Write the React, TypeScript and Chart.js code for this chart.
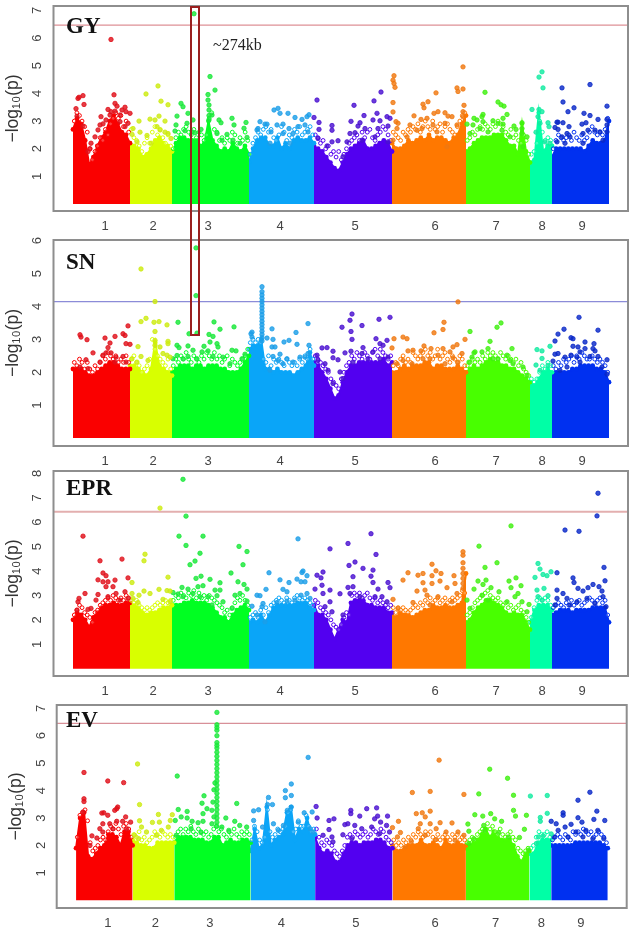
import React, { useEffect, useRef } from "react";
import { Chart, registerables } from "chart.js";

Chart.register(...registerables);

const chromosomes = ["1", "2", "3", "4", "5", "6", "7", "8", "9"];
const chromLengths = [57, 42, 77, 65, 78, 74, 64, 22, 57];
const chromLabelPositions = [32, 80, 135, 207, 282, 362, 423, 469, 509];
const massColors = ["#FA0000", "#D8FF00", "#00FF22", "#0AA5F8", "#5200F0", "#FF7800", "#48FF00", "#00FFA6", "#0030F0"];
const pointColors = ["#E0101A", "#CDEB10", "#18E838", "#1C9EE8", "#4A10D0", "#F07810", "#40F010", "#10EBA0", "#0A28C8"];

// Upper edge of the solid band of points, one list for each chromosome
const gyEnvelope = [
  [2.7, 3.1, 2.9, 2.3, 1.4, 1.7, 2.1, 2.4, 2.6, 3.0, 3.2, 2.9, 2.6, 2.5, 2.2],
  [2.2, 2.1, 2.0, 1.7, 1.8, 2.0, 2.3, 2.4, 2.2, 2.1, 1.9],
  [1.8, 2.2, 2.4, 2.4, 2.3, 2.3, 2.3, 2.1, 2.2, 3.0, 2.3, 2.1, 1.9, 2.0, 1.9, 2.2, 2.0, 1.9, 2.1, 1.8],
  [1.5, 2.0, 2.3, 2.4, 2.4, 2.1, 2.1, 2.4, 2.0, 2.2, 2.0, 2.3, 2.4, 2.3, 2.3, 2.4, 2.2],
  [2.1, 2.0, 1.9, 1.7, 1.5, 1.3, 1.2, 1.5, 1.8, 2.0, 2.1, 2.2, 2.3, 2.0, 2.0, 2.1, 2.2, 2.3, 2.2, 1.9],
  [2.2, 2.0, 2.0, 2.1, 2.3, 2.2, 2.3, 2.4, 2.3, 2.5, 2.3, 2.4, 2.4, 2.3, 2.2, 2.4, 2.5, 2.9, 3.2],
  [1.9, 2.0, 2.2, 2.3, 2.4, 2.4, 2.4, 2.5, 2.5, 2.5, 2.3, 2.1, 2.1, 1.8, 2.9, 1.9, 1.5],
  [1.5, 1.6, 3.3, 1.9, 2.1, 2.1],
  [1.7, 2.0, 2.0, 2.0, 2.0, 2.0, 2.0, 2.0, 1.9, 2.1, 2.3, 2.2, 2.2, 2.3, 3.0],
];
const snEnvelope = [
  [2.1, 2.1, 2.1, 2.0, 1.9, 1.9, 2.0, 2.1, 2.2, 2.3, 2.3, 2.2, 2.1, 2.1, 2.1],
  [2.2, 2.2, 2.1, 2.0, 1.9, 2.1, 2.9, 2.2, 2.1, 2.0, 1.9],
  [2.0, 2.1, 2.2, 2.2, 2.2, 2.1, 2.2, 2.2, 2.1, 2.2, 2.2, 2.2, 2.1, 2.1, 2.0, 2.0, 2.0, 2.1, 2.3, 2.5],
  [2.7, 2.8, 2.8, 3.0, 2.1, 2.1, 2.0, 2.1, 2.0, 2.0, 2.0, 1.9, 2.0, 2.1, 2.2, 2.6, 2.2],
  [2.3, 2.2, 2.0, 1.8, 1.5, 1.2, 1.3, 1.7, 2.0, 2.2, 2.2, 2.3, 2.3, 2.3, 2.3, 2.3, 2.3, 2.4, 2.2, 2.3],
  [2.0, 2.0, 2.1, 2.2, 2.1, 2.2, 2.2, 2.2, 2.3, 2.3, 2.1, 2.2, 2.2, 2.1, 2.1, 2.1, 2.2, 2.1, 2.0],
  [2.0, 2.1, 2.2, 2.1, 2.2, 2.3, 2.4, 2.3, 2.3, 2.2, 2.2, 2.1, 2.1, 2.0, 1.9, 1.8, 1.7],
  [1.7, 1.6, 1.8, 2.0, 2.1, 2.0],
  [1.9, 2.0, 2.0, 2.0, 2.0, 2.1, 2.1, 2.2, 2.2, 2.2, 2.2, 2.1, 2.1, 2.0, 1.7],
];
const eprEnvelope = [
  [2.0, 2.3, 2.2, 2.0, 1.7, 2.1, 2.3, 2.5, 2.6, 2.6, 2.7, 2.6, 2.6, 2.7, 2.7],
  [2.6, 2.6, 2.5, 2.3, 2.2, 2.3, 2.3, 2.4, 2.5, 2.5, 2.6],
  [2.6, 2.6, 2.6, 2.7, 2.7, 2.8, 2.7, 2.7, 2.7, 2.6, 2.5, 2.3, 2.1, 2.1, 1.9, 2.2, 2.4, 2.5, 2.6, 2.4],
  [1.9, 2.0, 1.9, 2.2, 1.9, 2.2, 2.5, 2.6, 2.6, 2.6, 2.6, 2.6, 2.7, 2.7, 2.7, 2.5, 2.4],
  [2.6, 2.2, 2.2, 2.0, 1.6, 1.2, 1.6, 2.0, 1.9, 2.7, 2.8, 2.8, 2.8, 2.6, 2.6, 2.5, 2.5, 2.5, 2.3, 2.3],
  [2.2, 2.1, 2.3, 2.2, 2.2, 2.1, 2.2, 2.3, 2.4, 2.4, 2.6, 2.5, 2.5, 2.6, 2.5, 2.5, 2.6, 2.7, 3.9],
  [1.9, 2.0, 2.3, 2.5, 2.6, 2.8, 2.8, 2.7, 2.6, 2.5, 2.3, 2.2, 2.3, 2.2, 2.2, 1.9, 1.6],
  [1.9, 2.4, 2.6, 2.6, 2.6, 2.4],
  [2.2, 2.3, 2.4, 2.4, 2.4, 2.3, 2.4, 2.4, 2.4, 2.4, 2.5, 2.5, 2.5, 2.5, 1.9],
];
const evEnvelope = [
  [1.9, 3.0, 3.2, 1.6, 1.5, 1.7, 1.9, 2.0, 2.4, 2.4, 2.3, 2.0, 2.5, 2.5, 2.0],
  [2.2, 2.1, 2.0, 2.0, 1.9, 1.9, 2.1, 2.1, 2.1, 2.1, 2.1],
  [2.1, 2.3, 2.3, 2.3, 2.3, 2.2, 2.2, 2.2, 2.1, 2.1, 2.3, 2.3, 2.0, 2.1, 2.2, 2.1, 2.1, 2.2, 2.2, 2.1],
  [1.8, 2.6, 1.9, 2.0, 3.4, 2.0, 2.2, 2.3, 2.4, 3.2, 3.4, 2.2, 2.6, 2.5, 3.0, 2.4, 2.4],
  [2.3, 1.9, 1.7, 1.8, 1.7, 1.4, 1.4, 1.7, 2.0, 2.1, 2.1, 2.0, 2.1, 2.1, 2.1, 2.2, 2.2, 2.1, 1.9, 1.9],
  [2.0, 1.8, 1.8, 1.9, 2.0, 2.0, 2.0, 2.2, 2.0, 2.0, 2.1, 2.0, 1.9, 2.2, 2.0, 2.0, 2.1, 2.0, 2.0],
  [1.9, 2.0, 2.1, 2.2, 2.4, 2.6, 2.3, 2.5, 2.3, 2.2, 2.2, 2.2, 2.0, 1.6, 1.4, 1.7, 1.8],
  [1.7, 1.7, 2.1, 2.2, 2.2, 2.2],
  [2.0, 2.0, 2.0, 2.0, 2.0, 2.0, 2.1, 2.1, 2.1, 2.1, 2.1, 2.1, 2.1, 2.0, 1.9],
];

// Open rings just above the solid band, read left to right in each chromosome
const gyFringe = [
  [3.0,3.3,3.2,3.0,2.8,2.6,2.0,1.6,1.9,2.1,2.4,2.3,2.7,2.5,2.9,3.1,3.3,3.1,3.2,2.8,3.0,2.6],
  [2.7,2.4,2.3,2.1,1.9,2.2,2.4,2.2,2.6,2.8,2.5,2.7,2.4,2.2,2.5,2.1],
  [2.0,2.4,2.6,2.5,2.7,2.8,2.6,2.5,2.7,2.4,2.6,2.5,2.3,2.5,3.1,3.3,2.7,2.6,2.3,2.4,2.2,2.4,2.3,2.6,2.5,2.2,2.4,2.3,2.6,2.3],
  [1.8,2.2,2.4,2.6,2.5,2.7,2.8,2.6,2.7,2.4,2.3,2.5,2.8,2.6,2.3,2.5,2.4,2.7,2.6,2.8,2.5,2.6,2.7,2.8,2.5],
  [2.5,2.4,2.2,2.3,2.0,2.1,1.8,1.9,1.7,1.9,1.6,1.8,2.0,2.2,2.3,2.4,2.5,2.3,2.6,2.4,2.6,2.7,2.4,2.3,2.5,2.6,2.8,2.7,2.5,2.3],
  [2.6,2.5,2.4,2.3,2.6,2.5,2.7,2.6,2.8,2.7,2.9,2.6,2.8,3.0,2.8,2.7,3.0,2.7,2.8,2.9,2.6,2.8,2.9,2.7,2.6,2.5,2.8,3.0,3.2,3.3],
  [2.3,2.4,2.6,2.5,2.7,2.8,2.7,2.9,2.8,2.7,2.9,2.8,3.0,2.9,2.8,2.6,2.5,2.7,2.4,2.5,2.3,2.2,2.5,2.3,1.8],
  [1.8,1.9,2.2,3.0,2.6,2.3,2.4,2.3],
  [2.0,2.3,2.5,2.4,2.3,2.4,2.5,2.3,2.6,2.4,2.3,2.5,2.3,2.4,2.6,2.8,2.6,2.5,2.6,2.5,2.7,3.1],
];
const snFringe = [
  [2.3,2.2,2.4,2.3,2.1,2.3,2.1,2.0,2.2,2.1,2.3,2.5,2.4,2.6,2.5,2.4,2.5,2.3,2.4,2.3,2.5,2.3],
  [2.4,2.5,2.3,2.2,2.0,2.1,2.2,2.4,3.0,2.7,2.5,2.4,2.3,2.2,2.4,2.1],
  [2.2,2.4,2.3,2.5,2.4,2.6,2.4,2.3,2.5,2.4,2.3,2.5,2.4,2.6,2.5,2.4,2.6,2.4,2.5,2.3,2.4,2.5,2.2,2.4,2.3,2.2,2.3,2.4,2.5,2.7],
  [2.9,3.0,2.9,3.0,2.9,2.4,2.3,2.5,2.2,2.4,2.3,2.4,2.3,2.2,2.4,2.3,2.2,2.3,2.2,2.4,2.3,2.5,2.4,2.7,2.4],
  [2.5,2.4,2.3,2.2,2.1,2.0,1.8,1.7,1.6,1.5,1.8,2.0,2.2,2.3,2.5,2.4,2.6,2.5,2.4,2.6,2.5,2.4,2.6,2.7,2.5,2.7,2.6,2.5,2.4,2.5],
  [2.2,2.3,2.2,2.4,2.5,2.3,2.4,2.3,2.6,2.5,2.4,2.5,2.6,2.7,2.5,2.6,2.4,2.5,2.7,2.4,2.5,2.6,2.4,2.3,2.5,2.4,2.3,2.5,2.4,2.2],
  [2.2,2.3,2.4,2.3,2.4,2.3,2.5,2.4,2.6,2.5,2.6,2.5,2.4,2.6,2.5,2.4,2.5,2.4,2.3,2.4,2.2,2.3,2.1,2.0,1.9],
  [1.8,1.7,1.8,2.0,2.2,2.1,2.3,2.2],
  [2.2,2.1,2.3,2.2,2.4,2.3,2.4,2.5,2.3,2.5,2.4,2.6,2.5,2.4,2.4,2.5,2.4,2.3,2.4,2.3,2.2,2.0],
];
const eprFringe = [
  [2.2,2.4,2.6,2.5,2.3,2.2,2.1,1.9,2.3,2.4,2.6,2.7,2.8,2.9,2.8,3.0,2.9,2.8,2.9,2.8,3.0,2.9],
  [2.8,2.7,2.8,2.6,2.5,2.4,2.5,2.4,2.5,2.6,2.7,2.6,2.7,2.8,2.7,2.8],
  [2.8,3.0,2.9,3.1,3.0,2.9,3.1,3.0,3.2,2.9,3.1,2.9,3.0,2.8,3.0,2.9,2.8,2.7,2.6,2.5,2.3,2.4,2.2,2.5,2.7,2.9,2.8,3.0,2.8,2.6],
  [2.1,2.2,2.3,2.1,2.4,2.2,2.5,2.3,2.6,2.7,2.8,2.9,2.8,2.7,2.9,2.8,2.7,2.9,3.0,2.9,2.8,2.9,2.8,2.7,2.6],
  [2.8,2.7,2.5,2.4,2.3,2.2,2.0,1.8,1.7,1.6,1.8,2.1,2.3,2.2,3.0,3.1,3.0,3.1,2.9,3.0,3.1,2.9,2.8,2.9,2.7,2.8,2.7,2.6,2.5,2.6],
  [2.5,2.3,2.5,2.4,2.5,2.4,2.3,2.4,2.5,2.6,2.5,2.7,2.6,2.8,2.7,2.9,2.7,2.8,2.9,2.7,2.8,2.9,2.7,2.8,2.9,2.8,2.9,3.0,3.2,3.1],
  [2.2,2.3,2.5,2.7,2.8,2.9,3.0,3.1,3.2,3.0,2.9,2.8,2.9,2.7,2.6,2.7,2.5,2.6,2.4,2.5,2.6,2.4,2.3,2.1,1.9],
  [2.1,2.5,2.8,2.9,2.8,2.9,2.8,2.6],
  [2.5,2.6,2.7,2.6,2.5,2.7,2.6,2.8,2.6,2.7,2.8,2.6,2.7,2.8,2.9,2.8,2.7,2.8,2.9,2.7,2.8,2.2],
];
const evFringe = [
  [2.3,3.1,3.2,3.3,2.9,2.1,1.8,1.9,2.0,2.2,2.3,2.2,2.5,2.7,2.6,2.8,2.6,2.4,2.7,2.8,2.6,2.3],
  [2.4,2.3,2.5,2.2,2.3,2.1,2.2,2.3,2.5,2.4,2.3,2.5,2.4,2.3,2.4,2.3],
  [2.3,2.5,2.6,2.4,2.6,2.5,2.7,2.5,2.4,2.6,2.5,2.4,2.5,2.3,2.4,2.6,2.7,2.5,2.6,2.4,2.3,2.5,2.4,2.6,2.4,2.3,2.5,2.4,2.5,2.4],
  [2.2,2.7,2.5,2.2,2.1,2.3,3.3,2.5,2.3,2.4,2.6,2.5,2.6,2.7,3.2,3.3,2.5,2.6,2.9,2.7,2.7,3.1,2.7,2.5,2.6],
  [2.6,2.3,2.1,2.0,2.2,2.1,2.0,1.8,1.7,1.6,1.8,2.0,2.3,2.4,2.3,2.5,2.4,2.3,2.4,2.5,2.3,2.4,2.6,2.5,2.4,2.6,2.5,2.3,2.2,2.1],
  [2.2,2.0,2.1,2.0,2.2,2.1,2.3,2.2,2.4,2.3,2.5,2.4,2.3,2.5,2.4,2.5,2.3,2.2,2.4,2.2,2.3,2.4,2.3,2.2,2.4,2.3,2.4,2.2,2.3,2.2],
  [2.1,2.2,2.3,2.2,2.4,2.5,2.6,2.5,2.8,2.6,2.7,2.5,2.4,2.6,2.4,2.3,2.4,2.5,2.3,2.2,1.9,1.8,1.7,1.8,1.9],
  [1.9,2.0,2.3,2.5,2.4,2.4,2.5,2.3],
  [2.2,2.3,2.4,2.3,2.2,2.4,2.3,2.2,2.5,2.4,2.5,2.4,2.6,2.5,2.4,2.5,2.3,2.4,2.5,2.4,2.3,2.1],
];

// Separate points: position inside the chromosome, -log10(p), repeated
const gyPoints = [
  [38,5.95,5,3.82,6,3.86,10,3.92,11,3.6,3,3.45,4,3.18,41,3.95,42,3.64,44,3.54,35,3.42,38,3.34,42,3.36,28,3.16,47,3.22,52,3.5,49,3.4,57,3.28,53,3.34,33,3.04,27,2.86,25,2.68,22,2.43,18,2.2,10,2.82,55,2.92,52,2.8,47,2.98,37,3.22,30,2.9,15,1.9,17,2.0],
  [16,3.98,28,4.27,31,3.72,38,3.59,9,3.0,20,3.07,25,3.04,29,3.18,35,3.0,3,2.73,2,2.52,10,2.6,17,2.48,27,2.8,30,2.68,35,2.6,7,2.25,21,2.2,38,2.55,41,2.37],
  [22,6.88,38,4.61,43,4.12,36,3.96,36,3.76,37,3.58,37,3.4,37,3.2,37,3.04,9,3.64,11,3.52,5,3.18,16,3.28,21,3.04,4,2.86,3,2.64,15,2.92,23,2.58,29,2.7,40,3.22,47,3.04,49,2.94,60,3.1,62,2.86,55,2.52,74,2.95,72,2.74,45,2.55,50,2.31,61,2.31,68,2.2,75,2.41,13,2.65,20,2.61],
  [25,3.4,29,3.46,31,3.28,39,3.28,11,2.98,16,2.89,18,2.89,9,2.73,28,2.86,34,2.89,46,3.13,53,3.06,58,3.16,60,3.23,49,2.8,56,2.86,40,2.73,22,2.61,59,2.61,8,2.68,34,2.55,44,2.55,21,2.2,41,2.2],
  [3,3.76,40,3.57,60,3.73,67,4.05,0,3.13,5,2.95,5,2.7,18,2.84,18,2.67,37,2.99,50,3.2,63,3.28,73,3.16,76,3.1,74,2.82,46,2.94,44,2.82,51,2.73,36,2.55,41,2.58,66,3.01,64,2.73,59,3.04,18,2.25,24,2.29,13,2.1,33,2.25,4,2.37,74,2.25,29,1.71,48,2.31,61,2.43],
  [71,4.96,2,4.64,1,4.48,2,4.36,3,4.22,1,3.67,1,3.33,44,4.02,65,4.2,66,4.07,71,4.16,31,3.61,36,3.7,32,3.48,46,3.34,53,3.3,60,3.16,22,3.19,35,3.1,29,3.06,42,3.28,56,3.18,72,3.57,71,3.34,71,3.16,4,2.98,6,2.92,5,2.73,25,2.67,18,2.86,41,2.86,53,2.92,65,2.86,15,2.43,30,2.73,45,2.61,55,2.07,1,2.31],
  [19,4.04,32,3.69,35,3.59,38,3.54,17,3.24,16,3.16,8,3.1,11,3.04,41,3.24,37,3.1,27,3.01,1,2.89,7,2.86,17,2.98,32,2.92,37,2.89,48,2.82,50,2.7,56,2.94,56,2.73,56,2.55,61,2.43,4,2.55,14,2.73,22,2.61,36,2.67,44,2.43,57,2.07],
  [12,4.78,9,4.59,13,4.2,2,3.42,9,3.42,12,3.34,18,2.94,19,2.8,6,2.6,8,3.16,10,2.92,15,2.25,20,2.2],
  [10,4.2,38,4.32,11,3.69,22,3.48,16,3.34,55,3.54,32,3.28,38,3.2,46,3.06,55,3.06,55,2.86,55,2.61,6,2.96,5,2.96,11,2.94,3,2.77,6,2.7,17,2.8,15,2.55,18,2.43,30,2.89,34,2.94,36,2.67,31,2.55,43,2.67,48,2.61,5,2.25,13,2.2,31,2.2,51,2.31,10,2.43],
];
const snPoints = [
  [7,3.14,8,3.07,14,2.99,20,2.59,13,2.38,32,3.04,42,3.09,37,2.89,35,2.75,50,3.17,52,3.12,55,3.41,53,2.87,57,2.85,33,2.59,38,2.59,43,2.46,50,2.48,30,2.52,42,2.31,27,2.31,7,2.16,15,2.11,53,2.31],
  [11,5.14,25,4.15,16,3.64,11,3.54,29,3.54,24,3.52,37,3.44,25,3.24,8,2.78,38,2.94,38,2.87,11,2.48,2,2.41,7,2.31,30,2.77,33,2.57,37,2.52,18,2.36,40,2.46,25,2.97,25,2.82],
  [24,5.78,24,4.33,6,3.52,42,3.53,48,3.31,62,3.38,17,3.17,25,3.19,37,3.15,41,3.09,5,2.82,7,2.75,16,2.8,21,2.67,32,2.79,38,2.92,45,2.87,46,2.77,36,2.65,30,2.62,25,2.41,11,2.41,1,2.41,41,2.48,51,2.46,60,2.67,64,2.65,73,2.55,70,2.41,16,2.48,58,2.26,5,2.51],
  [13,4.6,13,4.45,13,4.35,13,4.25,13,4.15,13,4.05,13,3.95,13,3.85,13,3.75,13,3.65,13,3.55,13,3.45,13,3.35,13,3.25,13,3.15,13,3.05,13,2.95,2,3.17,3,3.22,3,3.07,23,3.32,18,3.04,24,3,23,2.77,26,2.77,35,2.92,40,2.97,47,3.21,48,2.85,59,3.48,60,2.82,59,2.57,56,2.46,24,2.48,31,2.55,29,2.36,38,2.41,44,2.31,51,2.46,21,2.06,34,2.26],
  [38,3.77,36,3.58,28,3.37,48,3.42,37,3.24,65,3.61,76,3.67,38,3,62,3.02,73,2.97,66,2.87,69,2.82,8,2.74,13,2.75,19,2.64,31,2.59,37,2.64,49,2.75,59,2.62,3,2.52,4,2.36,11,2.26,19,2.44,24,2.38,14,2.06,19,1.66,26,2.01,39,2.31,48,2.57,54,2.41,66,2.41,74,2.46,29,1.81],
  [66,4.14,52,3.52,51,3.3,42,3.2,11,3.07,15,3.02,2,3.02,73,3,0,2.74,32,2.8,39,2.72,51,2.72,61,2.77,65,2.84,16,2.65,21,2.67,29,2.65,58,2.62,70,2.57,61,2.44,46,2.52,38,2.41,20,2.26,11,2.36,31,2.41,53,2.26,5,2.26,66,2.31],
  [4,3.24,31,3.37,35,3.5,24,2.94,9,2.62,16,2.62,22,2.72,46,2.72,8,2.59,6,2.46,3,2.31,27,2.41,32,2.41,41,2.52,44,2.36,57,2.16,47,2.26,61,1.91],
  [7,2.69,12,2.65,20,2.79,12,2.42,6,2.22,18,2.21,10,2.06],
  [27,3.67,12,3.31,46,3.28,6,3.16,3,2.95,19,3.05,21,3.02,33,2.92,42,2.87,21,2.79,33,2.72,26,2.77,41,2.72,43,2.65,3,2.55,6,2.57,13,2.46,19,2.52,28,2.62,25,2.46,38,2.48,46,2.48,55,2.38,1,2.34,15,2.16,28,2.31,50,2.16,55,1.94,8,2.06],
];
const eprPoints = [
  [10,5.43,27,4.42,49,4.49,30,3.92,33,3.81,25,3.64,42,3.63,55,3.72,30,3.56,35,3.56,33,3.36,40,3.36,12,3.08,6,2.88,5,2.74,25,3.04,43,3.08,52,3.15,4,2.4,15,2.43,23,2.81,35,2.95,47,2.81,55,2.88,18,2.47],
  [30,6.58,15,4.69,14,4.42,38,3.75,2,3.53,2,3.08,14,3.18,20,3.08,29,3.25,37,3.2,9,3.01,40,3.18,3,2.88,33,2.84,8,2.71,40,2.74],
  [11,7.76,14,6.25,7,5.43,31,5.43,14,5.05,67,5.01,75,4.8,28,4.73,23,4.41,18,4.26,71,4.26,59,3.92,29,3.79,24,3.7,38,3.66,48,3.52,66,3.56,72,3.45,75,3.26,10,3.33,16,3.26,26,3.36,31,3.4,1,3.12,6,3.06,11,2.95,21,3.08,28,2.95,36,2.95,43,3.22,48,3.22,45,2.99,63,3.01,68,3.08,75,2.77,51,2.74,60,2.47,40,2.61],
  [49,5.32,20,3.93,53,3.94,54,4,58,3.81,31,3.64,40,3.53,48,3.67,52,3.56,56,3.56,34,3.25,38,3.15,17,3.25,8,3.01,11,2.99,52,3.01,58,3.08,61,2.88,3,2.56,13,2.54,14,2.67,28,2.71,38,2.77,46,2.81,8,2.2,16,1.92],
  [16,4.91,34,5.13,57,5.53,62,4.68,41,4.37,35,4.23,49,4.11,59,4.04,9,3.96,3,3.83,7,3.72,57,3.79,39,3.77,59,3.53,8,3.42,1,3.26,16,3.22,26,3.07,34,3.33,39,3.36,64,3.26,74,3.53,76,3.32,9,3.08,36,3.08,61,2.95,68,2.95,16,2.74,11,2.54,18,2.33,29,2.2,46,2.95,73,2.74],
  [71,4.79,71,4.65,71,4.34,71,4.11,71,3.9,71,3.7,71,3.49,71,3.29,40,4.28,16,3.93,11,3.63,26,3.83,31,3.9,44,4.01,49,3.9,62,3.81,40,3.81,31,3.52,40,3.49,48,3.59,63,3.49,55,3.32,25,3.18,33,3.22,35,3.01,65,3.08,46,2.95,21,2.71,1,2.84,6,2.47,60,2.74,38,2.61],
  [45,5.85,13,5.02,31,4.34,19,4.15,12,3.59,20,3.63,17,3.45,43,3.59,50,3.72,8,3.26,25,3.32,45,3.32,55,3.4,52,3.08,49,2.95,16,3.01,33,3.15,22,2.81,41,2.74,56,2.74,63,2.63,1,2.81,4,2.47,61,2.33],
  [8,4.31,10,4.08,13,3.86,17,3.81,21,3.97,5,3.74,7,3.22,14,3.29,8,2.95,18,2.99,12,2.81],
  [46,7.19,45,6.26,13,5.68,27,5.63,52,4.15,5,3.93,21,3.72,53,3.6,22,3.53,5,3.22,11,3.08,26,3.29,31,3.18,36,3.32,41,3.45,47,3.36,50,3.18,51,2.95,5,2.88,15,2.88,25,2.74,35,2.88,43,2.67,54,2.54,18,2.61,3,2.61],
];
const evPoints = [
  [8,4.66,32,4.35,48,4.29,8,3.7,8,3.6,7,3.22,26,3.18,28,3.19,32,3.1,41,3.34,42,3.4,39,3.28,50,3.04,55,2.85,47,2.88,41,2.88,34,2.79,27,2.79,24,2.61,16,2.35,21,2.27,14,2,27,2.49,37,2.61,51,2.61],
  [5,4.97,7,3.49,7,2.9,20,2.84,26,3.13,27,2.85,40,3.12,38,2.91,9,2.67,2,2.37,14,2.49,29,2.55,36,2.67,24,2.37,6,2.25],
  [43,6.85,43,6.4,43,6.3,43,6.2,43,6,43,5.75,43,5.65,43,5.55,43,5.4,43,5.25,43,5.1,43,4.95,43,4.8,43,4.65,43,4.5,43,4.35,43,4.2,43,4.05,43,3.9,43,3.75,43,3.6,43,3.45,43,3.3,43,3.15,43,3,43,2.85,43,2.7,3,4.53,30,3.81,28,3.54,40,4.03,41,4.28,39,3.58,63,3.53,4,3.31,13,3.24,7,3.04,13,3,18,2.88,24,2.83,29,2.88,33,3.34,29,3.16,1,2.91,38,3.28,40,3.04,38,2.79,52,3,48,2.67,61,2.88,66,2.73,73,2.67,17,2.61,27,2.47,55,2.55,2,2.37],
  [58,5.21,41,4.24,35,4,41,3.82,35,3.74,18,3.75,3,3.26,8,3.3,17,3.49,22,3.49,41,3.4,37,3.28,54,3.19,3,2.91,23,2.79,33,2.73,48,2.85,62,3.22,60,2.61,12,2.67,28,2.55,63,2.49],
  [1,3.42,36,3.28,36,3.16,52,3.34,62,3.37,45,3.07,73,3.07,2,3,14,2.91,19,2.97,63,3.07,66,2.85,60,2.97,30,2.76,40,2.73,33,2.79,57,2.67,47,2.61,72,2.73,75,2.49,14,2.58,8,2.37,17,2.31,28,2.39,18,2.13,37,2.25,65,2.43],
  [47,5.11,20,3.93,38,3.97,72,3.86,24,3.16,30,3.19,38,3.25,33,3.04,6,2.88,28,2.79,38,2.79,48,2.83,60,2.82,26,2.61,44,2.61,54,2.49,66,2.49,8,2.47,5,2.31,19,2.15,33,2.37,44,2.22,63,2.19,0,2.65,13,1.95,72,2.37],
  [24,4.78,42,4.45,13,3.88,48,3.83,48,3.28,50,3.07,61,3.1,9,3.12,17,3.07,25,3.16,29,2.97,36,2.88,2,2.78,59,2.59,3,2.52,18,2.73,19,2.55,33,2.47,54,2.29,43,2.31,8,2.25,3,2.07,63,1.83],
  [1,3.8,18,3.82,18,3.17,11,3.02,11,2.88,9,2.31,22,2.42,14,2.35,7,2.07],
  [39,3.94,27,3.65,46,3.25,12,3.19,12,3.1,27,3.01,43,2.95,54,2.91,0,2.88,5,2.79,14,2.67,20,2.77,31,2.85,7,2.55,25,2.49,35,2.55,47,2.55,17,2.31,53,2.25,3,2.31,42,2.25,32,2.31],
];

const gyTicks = [1, 2, 3, 4, 5, 6, 7];
const snTicks = [1, 2, 3, 4, 5, 6];
const eprTicks = [1, 2, 3, 4, 5, 6, 7, 8];
const evTicks = [1, 2, 3, 4, 5, 6, 7];

const panelNames = ["GY", "SN", "EPR", "EV"];
const thresholds = [6.47, 4.15, 6.43, 6.45];
const calloutLabel = "~274kb";
const yTitle = "−log₁₀(p)";

const panels = [
  { name: panelNames[0], env: gyEnvelope, fringe: gyFringe, pts: gyPoints, ticks: gyTicks, thr: thresholds[0], line: "#DE9096", lw: 1.2, top: 0, h: 235, boxT: 6, boxB: 211, boxL: 53.5, boxR: 628, yMin: -0.25, yMax: 7.16, xMin: -19.5, xMax: 555, titleTop: 18, titlePad: 3 },
  { name: panelNames[1], env: snEnvelope, fringe: snFringe, pts: snPoints, ticks: snTicks, thr: thresholds[1], line: "#8C8CD8", lw: 1.2, top: 235, h: 236, boxT: 239.5, boxB: 446, boxL: 53.5, boxR: 628, yMin: -0.24, yMax: 6.02, xMin: -19.5, xMax: 555, titleTop: 254, titlePad: 3 },
  { name: panelNames[2], env: eprEnvelope, fringe: eprFringe, pts: eprPoints, ticks: eprTicks, thr: thresholds[2], line: "#E3AFAF", lw: 2, top: 465, h: 235, boxT: 471, boxB: 676, boxL: 53.5, boxR: 628, yMin: -0.3, yMax: 8.1, xMin: -19.5, xMax: 555, titleTop: 480, titlePad: 3 },
  { name: panelNames[3], env: evEnvelope, fringe: evFringe, pts: evPoints, ticks: evTicks, thr: thresholds[3], line: "#D89098", lw: 1.2, top: 700, h: 234, boxT: 704, boxB: 908, boxL: 56.7, boxR: 626.7, yMin: -0.28, yMax: 7.12, xMin: -19.5, xMax: 555.1, titleTop: 712, titlePad: 6 },
];

const boxPlugin = {
  id: "box",
  afterDraw(chart: any) {
    const { ctx, chartArea: a } = chart;
    ctx.save();
    ctx.strokeStyle = "#8E8E8E";
    ctx.lineWidth = 2;
    ctx.strokeRect(a.left, a.top, a.right - a.left, a.bottom - a.top);
    ctx.restore();
  },
};

function buildDatasets(p: (typeof panels)[number]) {
  const datasets: any[] = [];
  let start = 0;
  chromosomes.forEach((_, c) => {
    const len = chromLengths[c];
    const env = p.env[c];
    const ring = p.fringe[c];
    const s = start;
    datasets.push({
      data: env.map((y, i) => ({ x: s + (i * len) / (env.length - 1), y })),
      showLine: true,
      fill: "origin",
      backgroundColor: massColors[c],
      borderColor: massColors[c],
      borderWidth: 2,
      pointRadius: 2.4,
      pointBackgroundColor: massColors[c],
      pointBorderWidth: 0,
      order: 4,
    });
    datasets.push({
      data: ring.map((y, i) => ({ x: s + ((i + 0.5) * len) / ring.length, y })),
      showLine: false,
      pointRadius: 1.9,
      pointBackgroundColor: "rgba(255,255,255,0.25)",
      pointBorderColor: massColors[c],
      pointBorderWidth: 1,
      order: 3,
    });
    const flat = p.pts[c];
    const data: { x: number; y: number }[] = [];
    for (let i = 0; i < flat.length; i += 2) data.push({ x: s + flat[i], y: flat[i + 1] });
    datasets.push({
      data,
      showLine: false,
      pointRadius: 2.2,
      pointBackgroundColor: pointColors[c] + "D0",
      pointBorderColor: pointColors[c],
      pointBorderWidth: 0.8,
      order: 1,
    });
    start += len;
  });
  datasets.push({
    data: [{ x: p.xMin, y: p.thr }, { x: p.xMax, y: p.thr }],
    showLine: true,
    borderColor: p.line,
    borderWidth: p.lw,
    pointRadius: 0,
    order: 2,
  });
  return datasets;
}

function Panel({ p }: { p: (typeof panels)[number] }) {
  const ref = useRef<HTMLCanvasElement>(null);
  useEffect(() => {
    const chart = new Chart(ref.current!, {
      type: "scatter",
      data: { datasets: buildDatasets(p) },
      plugins: [boxPlugin],
      options: {
        animation: false,
        responsive: false,
        layout: { padding: { top: p.boxT - p.top, right: 633 - p.boxR, left: 0, bottom: 0 } },
        plugins: { legend: { display: false }, tooltip: { enabled: false } },
        scales: {
          x: {
            type: "linear",
            min: p.xMin,
            max: p.xMax,
            grid: { display: false, drawTicks: false },
            border: { display: false },
            afterFit: (s: any) => { s.height = p.top + p.h - p.boxB; s.paddingLeft = 0; s.paddingRight = 0; },
            afterBuildTicks: (s: any) => { s.ticks = chromLabelPositions.map((value) => ({ value })); },
            ticks: {
              autoSkip: false,
              maxRotation: 0,
              padding: 8,
              color: "#444",
              font: { family: "Liberation Sans", size: 13 },
              callback: (v: any) => chromosomes[chromLabelPositions.indexOf(v)],
            },
          },
          y: {
            type: "linear",
            min: p.yMin,
            max: p.yMax,
            grid: { display: false, drawTicks: false },
            border: { display: false },
            afterFit: (s: any) => { s.width = p.boxL; s.paddingTop = 0; s.paddingBottom = 0; },
            afterBuildTicks: (s: any) => { s.ticks = p.ticks.map((value) => ({ value })); },
            ticks: {
              autoSkip: false,
              minRotation: 90,
              maxRotation: 90,
              crossAlign: "center",
              padding: 12,
              color: "#444",
              font: { family: "Liberation Sans", size: 13 },
              callback: (v: any) => String(v),
            },
            title: {
              display: true,
              text: yTitle,
              color: "#333",
              padding: { top: p.titlePad, bottom: 0 },
              font: { family: "Liberation Sans", size: 17.5 },
            },
          },
        },
      } as any,
    });
    return () => chart.destroy();
  }, [p]);
  return (
    <canvas
      ref={ref}
      width={633}
      height={p.h}
      style={{ position: "absolute", left: 0, top: p.top, width: 633, height: p.h, display: "block" }}
    />
  );
}

export default function App() {
  return (
    <div style={{ position: "absolute", left: 0, top: 0, width: 633, height: 934, background: "#fff", overflow: "hidden", filter: "blur(0.35px)" }}>
      {panels.map((p) => (
        <Panel key={p.name} p={p} />
      ))}
      {panels.map((p) => (
        <div
          key={p.name + "-label"}
          style={{ position: "absolute", left: 66, top: p.titleTop - 4, font: "bold 23px/23px 'Liberation Serif'", color: "#111" }}
        >
          {p.name}
        </div>
      ))}
      <div style={{ position: "absolute", left: 213, top: 36, font: "16px/18px 'Liberation Serif'", color: "#222" }}>{calloutLabel}</div>
      <div
        style={{ position: "absolute", left: 190, top: 6, width: 6, height: 326, border: "2px solid #9A1F1F", pointerEvents: "none" }}
      />
    </div>
  );
}
